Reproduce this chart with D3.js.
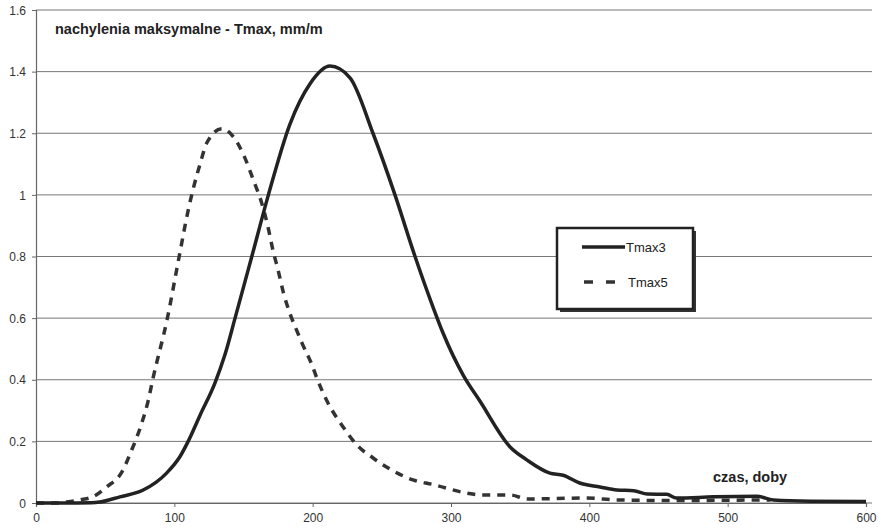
<!DOCTYPE html>
<html>
<head>
<meta charset="utf-8">
<script src="https://cdn.jsdelivr.net/npm/d3@7"></script>
<style>
  body { margin: 0; background: #fff; }
  text { font-family: "Liberation Sans", Arial, sans-serif; fill: #222; }
</style>
</head>
<body>
<svg id="chart"></svg>
<script>
// dane: czas (doby) i nachylenie (mm/m)
let t3x = [0, 20, 40, 46, 60.7, 77.5, 94.4, 104, 110, 118.6, 129.4, 136.5, 143.9, 156, 168, 183.6, 198, 212.5, 227, 243.6, 259.5, 274, 287, 294.4, 308.8, 321, 342.7, 354.8, 371.5, 381, 393, 407.7, 420, 432, 442, 456, 463, 490, 521, 533, 560, 600];
let t3y = [0, 0, 0.001, 0.003, 0.02, 0.042, 0.097, 0.15, 0.2, 0.285, 0.39, 0.48, 0.60, 0.80, 1.0, 1.23, 1.36, 1.418, 1.38, 1.2, 1.0, 0.8, 0.636, 0.55, 0.415, 0.33, 0.182, 0.14, 0.097, 0.09, 0.065, 0.052, 0.042, 0.04, 0.029, 0.028, 0.016, 0.02, 0.022, 0.01, 0.006, 0.005];

let t5x = [0, 17, 22, 32, 41, 51, 62, 69, 76.5, 81, 84.6, 94.7, 103.5, 110, 114, 118.6, 123.6, 134.5, 142.4, 151, 157, 163.4, 167.7, 171.3, 175, 179, 183.6, 188, 192.3, 199.5, 203, 210, 222, 232, 243.7, 256, 272.5, 287, 311.5, 323, 343, 355, 398, 420, 460, 500, 531];
let t5y = [0, 0, 0.003, 0.01, 0.02, 0.052, 0.10, 0.17, 0.26, 0.33, 0.405, 0.594, 0.80, 0.95, 1.026, 1.10, 1.17, 1.215, 1.19, 1.12, 1.05, 0.97, 0.896, 0.82, 0.756, 0.68, 0.615, 0.565, 0.519, 0.448, 0.406, 0.334, 0.247, 0.188, 0.146, 0.11, 0.075, 0.06, 0.032, 0.026, 0.026, 0.013, 0.016, 0.01, 0.008, 0.009, 0.01];

let xTicks = [0, 100, 200, 300, 400, 500, 600];
let yTicks = [0, 0.2, 0.4, 0.6, 0.8, 1, 1.2, 1.4, 1.6];
let seriesNames = ["Tmax3", "Tmax5"];

let width = 882;
let height = 530;

let svg = d3.select("#chart")
  .attr("width", width)
  .attr("height", height);

let xScale = d3.scaleLinear().domain([0, 600]).range([36, 866]);
let yScale = d3.scaleLinear().domain([0, 1.6]).range([503, 10]);

// siatka
svg.append("g")
  .selectAll("line")
  .data(yTicks)
  .enter()
  .append("line")
  .attr("x1", xScale(0))
  .attr("x2", 872)
  .attr("y1", d => yScale(d))
  .attr("y2", d => yScale(d))
  .attr("stroke", "#777")
  .attr("stroke-width", 1);

// osie
let yAxis = d3.axisLeft(yScale).tickValues(yTicks).tickSize(4).tickPadding(6).tickFormat(d => String(d));
let xAxis = d3.axisBottom(xScale).tickValues(xTicks).tickSize(4).tickPadding(6).tickFormat(d3.format("d"));

let gy = svg.append("g")
  .attr("transform", "translate(" + xScale(0) + ",0)")
  .call(yAxis);
let gx = svg.append("g")
  .attr("transform", "translate(0," + yScale(0) + ")")
  .call(xAxis);

[gx, gy].forEach(g => {
  g.select(".domain").attr("stroke", "#666").attr("stroke-width", 1.2);
  g.selectAll(".tick line").attr("stroke", "#666");
  g.selectAll(".tick text").style("font-size", "12px").style("fill", "#333");
});
gy.selectAll(".tick text").attr("dy", "0.35em");

// linie
let line = d3.line()
  .x(d => xScale(d[0]))
  .y(d => yScale(d[1]))
  .curve(d3.curveMonotoneX);

svg.append("path")
  .datum(d3.zip(t5x, t5y))
  .attr("d", line)
  .attr("fill", "none")
  .attr("stroke", "#333")
  .attr("stroke-width", 3.5)
  .attr("stroke-dasharray", "8,7");

svg.append("path")
  .datum(d3.zip(t3x, t3y))
  .attr("d", line)
  .attr("fill", "none")
  .attr("stroke", "#222")
  .attr("stroke-width", 3.5);

// tytuł
svg.append("text")
  .attr("x", 55)
  .attr("y", 34)
  .style("font-size", "14.5px")
  .style("font-weight", "bold")
  .text("nachylenia maksymalne - Tmax, mm/m");

svg.append("text")
  .attr("x", 713)
  .attr("y", 482)
  .style("font-size", "14.5px")
  .style("font-weight", "bold")
  .text("czas, doby");

// legenda
let legend = svg.append("g");
legend.append("rect")
  .attr("x", 560).attr("y", 231)
  .attr("width", 136).attr("height", 81)
  .attr("fill", "#333");
legend.append("rect")
  .attr("x", 557).attr("y", 228)
  .attr("width", 136).attr("height", 81)
  .attr("fill", "#fff")
  .attr("stroke", "#222")
  .attr("stroke-width", 2.5);

let legY = [247, 282];
legend.append("line")
  .attr("x1", 582).attr("x2", 625)
  .attr("y1", legY[0]).attr("y2", legY[0])
  .attr("stroke", "#222").attr("stroke-width", 3.5);
legend.append("line")
  .attr("x1", 584).attr("x2", 618)
  .attr("y1", legY[1]).attr("y2", legY[1])
  .attr("stroke", "#333").attr("stroke-width", 3.5)
  .attr("stroke-dasharray", "9,13");

legend.selectAll("text.leg")
  .data(seriesNames)
  .enter()
  .append("text")
  .attr("class", "leg")
  .attr("x", (d, i) => i === 0 ? 626 : 628)
  .attr("y", (d, i) => legY[i])
  .attr("dy", "0.35em")
  .style("font-size", "13px")
  .text(d => d);
</script>
</body>
</html>
